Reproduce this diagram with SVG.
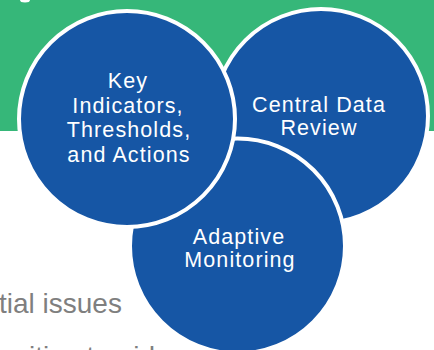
<svg xmlns="http://www.w3.org/2000/svg" width="434" height="350" viewBox="0 0 434 350">
  <style>
    .bubble { fill: #1656a5; stroke: #ffffff; stroke-width: 4; }
    .lbl { font-family: "Liberation Sans", Arial, sans-serif; font-size: 21.5px; letter-spacing: 1.1px; fill: #ffffff; text-anchor: middle; }
    .body { font-family: "Liberation Sans", Arial, sans-serif; font-size: 28px; fill: #7f7f7f; }
  </style>
  <rect x="0" y="0" width="434" height="350" fill="#ffffff"/>
  <rect x="0" y="0" width="434" height="131" fill="#36b779"/>
  <ellipse cx="25" cy="0" rx="5" ry="2.5" fill="#ffffff"/>
  <text class="body" x="-1" y="313">tial issues</text>
  <text class="body" x="29" y="366">itize to aid</text>
  <g id="connectors"></g>
  <g id="node-central-data-review">
    <circle class="bubble" cx="321" cy="116" r="107"/>
    <text class="lbl" x="319" y="111.5">Central Data</text>
    <text class="lbl" x="319" y="135">Review</text>
  </g>
  <g id="node-adaptive-monitoring">
    <circle class="bubble" cx="237.5" cy="246" r="107.5"/>
    <text class="lbl" x="239" y="244">Adaptive</text>
    <text class="lbl" x="240" y="266.5">Monitoring</text>
  </g>
  <g id="node-key-indicators">
    <circle class="bubble" cx="127" cy="119" r="108"/>
    <text class="lbl" x="128" y="88">Key</text>
    <text class="lbl" x="128" y="112.5">Indicators,</text>
    <text class="lbl" x="129" y="137">Thresholds,</text>
    <text class="lbl" x="129" y="161.5">and Actions</text>
  </g>
</svg>
